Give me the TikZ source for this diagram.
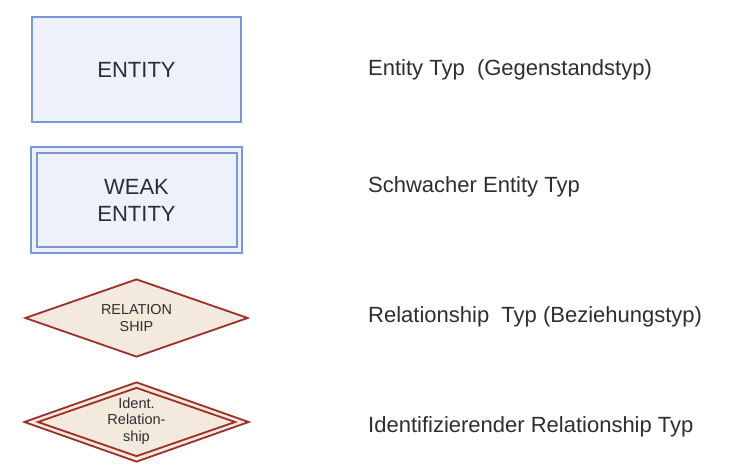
\documentclass[tikz,border=0pt]{standalone}
\usepackage{fontspec}
\setmainfont{Liberation Sans}
\usetikzlibrary{shapes.geometric}
\definecolor{entline}{HTML}{7C97D6}
\definecolor{entfill}{HTML}{EEF0FB}
\definecolor{relline}{HTML}{9E2E28}
\definecolor{relfill}{HTML}{F3E9DD}
\definecolor{txt}{HTML}{2E2E2E}
\begin{document}
\begin{tikzpicture}[x=1pt,y=-1pt,
  entbox/.style={draw=entline,fill=entfill,line width=2pt,rectangle,inner sep=0pt,text=txt,align=center,font=\fontsize{22}{27}\selectfont},
  relbox/.style={draw=relline,fill=relfill,line width=1.8pt,diamond,inner sep=0pt},
  reltext/.style={inner sep=0pt,text=txt,align=center},
  lbl/.style={anchor=base west,inner sep=0pt,text=txt,font=\fontsize{22}{26}\selectfont}]
\useasboundingbox (0,0) rectangle (730,474);
\fill[white] (0,0) rectangle (730,474);
% Entity
\node[entbox,minimum width=209pt,minimum height=105pt] (ent) at (136.5,69.5) {ENTITY};
% Weak entity
\node[entbox,minimum width=211pt,minimum height=106pt] (weako) at (136.5,200) {};
\node[entbox,minimum width=200pt,minimum height=94pt] (weak) at (136.5,200) {WEAK\\ENTITY};
% Relationship
\node[relbox,minimum width=223pt,minimum height=78pt] (rel) at (136.5,318) {};
\node[reltext,font=\fontsize{14.4}{17}\selectfont] (reltx) at (rel.center) {RELATION\\SHIP};
% Identifying relationship
\node[relbox,minimum width=225pt,minimum height=80pt] (idento) at (136.5,422) {};
\node[relbox,minimum width=198pt,minimum height=69pt] (ident) at (136.5,422) {};
\node[reltext,font=\fontsize{14.5}{16.5}\selectfont] (identtx) at (136.5,421) {Ident.\\Relation-\\ship};
% Labels
\node[lbl] (l1) at (368,75) {Entity Typ\ \ (Gegenstandstyp)};
\node[lbl] (l2) at (368,192) {Schwacher Entity Typ};
\node[lbl] (l3) at (368,322) {Relationship\ \ Typ (Beziehungstyp)};
\node[lbl] (l4) at (368,432) {Identifizierender Relationship Typ};
\end{tikzpicture}
\end{document}
